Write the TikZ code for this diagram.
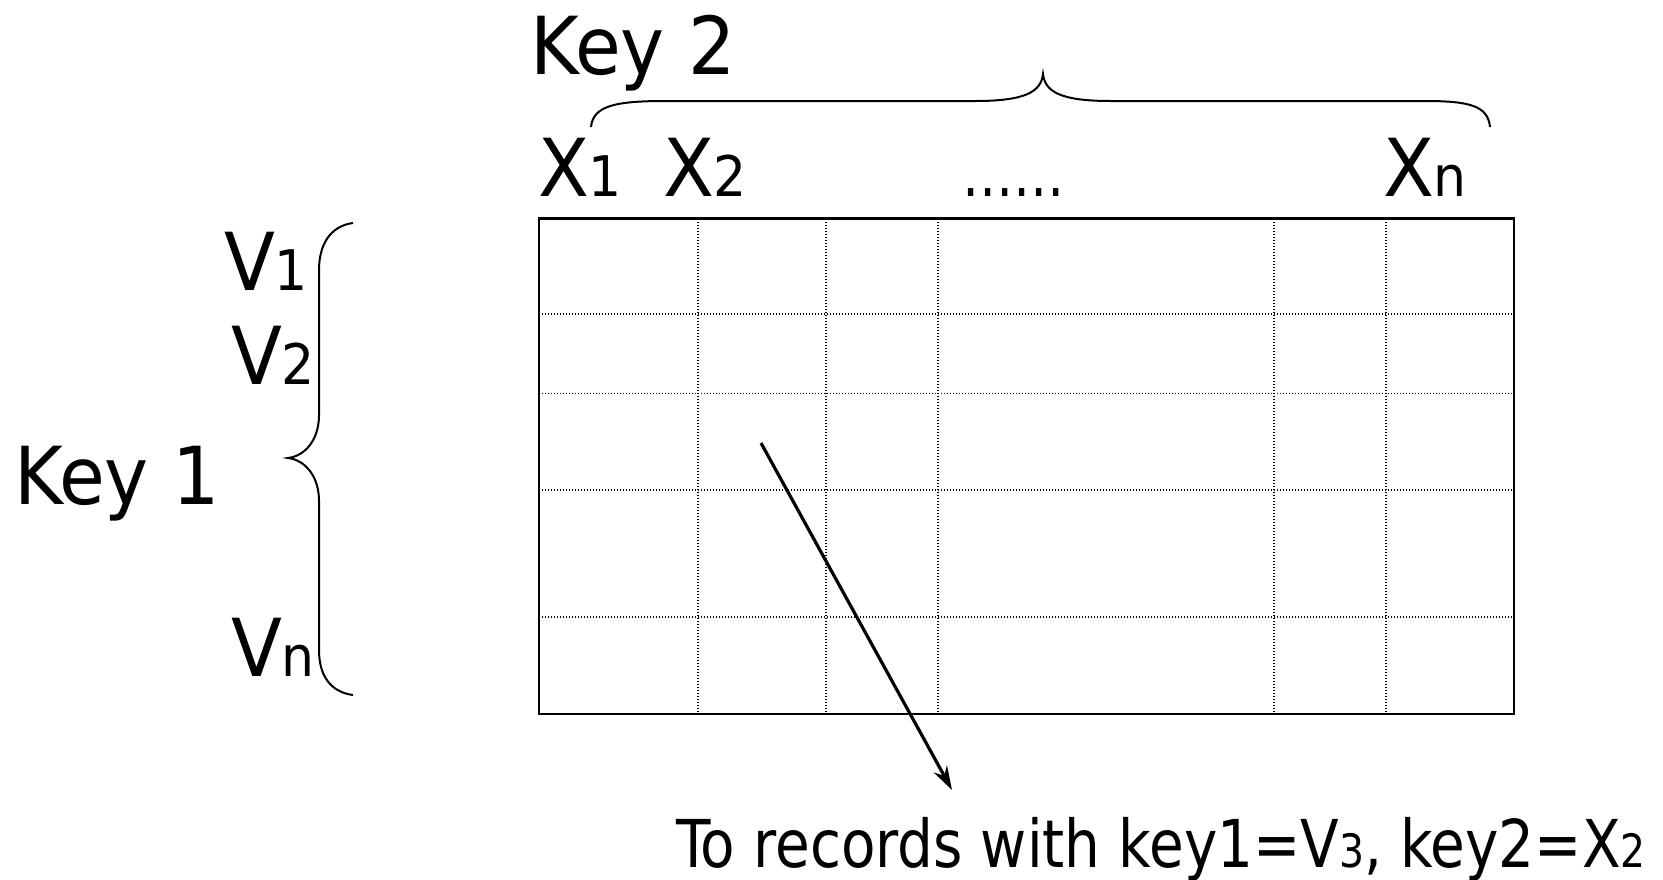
\documentclass[tikz,border=0pt]{standalone}
\usepackage{fontspec}
\setmainfont{DejaVu Sans}
\usetikzlibrary{arrows.meta}
\newcommand{\bigtxt}{\fontsize{80}{90}\selectfont}
\newcommand{\subtxt}{\fontsize{56}{62}\selectfont}
\newcommand{\dottxt}{\fontsize{64}{70}\selectfont}
\newcommand{\bottxt}{\fontsize{66}{74}\selectfont}
\newcommand{\subbot}{\fontsize{46}{52}\selectfont}
\begin{document}
\begin{tikzpicture}[x=1pt,y=-1pt,
  lbl/.style={anchor=base west,inner sep=0pt,outer sep=0pt,xscale=0.93,transform shape},
  botlbl/.style={anchor=base west,inner sep=0pt,outer sep=0pt,xscale=0.855,transform shape},
  dotlbl/.style={anchor=base west,inner sep=0pt,outer sep=0pt,xscale=0.8,transform shape},
  gridline/.style={line width=1.2pt,dash pattern=on 1.4pt off 1.6pt},
  brace/.style={line width=2pt},
  border/.style={line width=2.2pt},
  pointer/.style={line width=3.2pt,-{Stealth[length=24pt,width=15pt]}}]
\useasboundingbox (0,0) rectangle (1663,879);
% grid
\foreach \xx in {698,826,938,1274,1386}
  \draw[gridline] (\xx,218.5) -- (\xx,714);
\foreach \yy in {314,393.5,490,617}
  \draw[gridline] (539,\yy) -- (1514,\yy);
\draw[border] (539,218.5) rectangle (1514,714);
% labels
\node[lbl] (key2) at (530,74) {\bigtxt Key 2};
\node[lbl] (x1) at (538,196) {\bigtxt X\subtxt 1};
\node[lbl] (x2) at (663,196) {\bigtxt X\subtxt 2};
\node[dotlbl] (dots) at (962,196) {\dottxt ……};
\node[lbl] (xn) at (1383,196) {\bigtxt X\subtxt n};
\node[lbl] (v1) at (224,290) {\bigtxt V\subtxt 1};
\node[lbl] (v2) at (231,384) {\bigtxt V\subtxt 2};
\node[lbl] (key1) at (14,504) {\bigtxt Key 1};
\node[lbl] (vn) at (231,676) {\bigtxt V\subtxt n};
\node[botlbl] (rec) at (676,867) {\bottxt To records with key1=V\subbot 3\bottxt , key2=X\subbot 2};
% top brace
\draw[brace] (591,127) .. controls (593,106) and (615,101) .. (665,101)
  -- (975,101) .. controls (1025,101) and (1041,92) .. (1043,74)
  .. controls (1045,92) and (1061,101) .. (1111,101)
  -- (1425,101) .. controls (1470,101) and (1488,106) .. (1490,127);
% left brace
\draw[brace] (353,223) .. controls (330,226) and (319,245) .. (319,270)
  -- (319,415) .. controls (319,440) and (305,456) .. (288,458)
  .. controls (305,460) and (319,476) .. (319,501)
  -- (319,650) .. controls (319,675) and (330,692) .. (353,695);
% arrow
\coordinate (arrs) at (761,443);
\coordinate (arre) at (952,790);
\draw[pointer] (arrs) -- (arre);
\end{tikzpicture}
\end{document}
